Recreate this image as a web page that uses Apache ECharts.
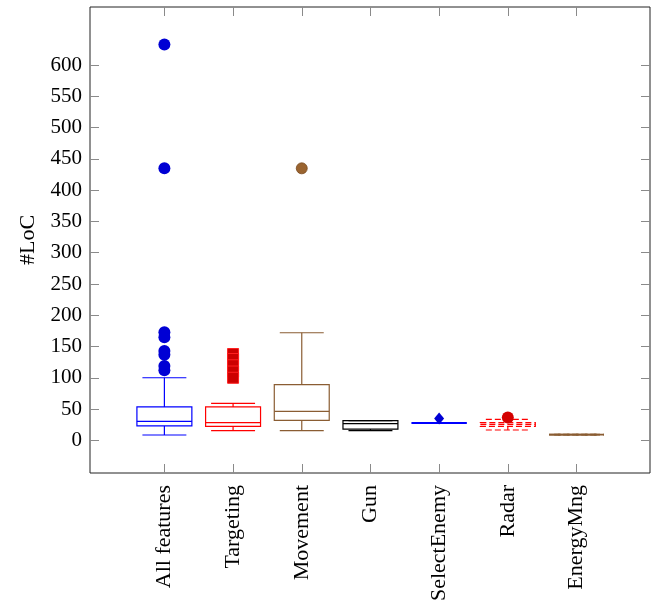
<!DOCTYPE html>
<html>
<head>
<meta charset="UTF-8">
<title>LoC per feature</title>
<script src="https://cdn.jsdelivr.net/npm/echarts@6/dist/echarts.min.js"></script>
<style>
  html, body { margin: 0; padding: 0; background: #fff; }
  #chart { width: 653px; height: 611px; }
</style>
</head>
<body>
<div id="chart"></div>
<script>
// box statistics, one entry per category
var categories = ['All features', 'Targeting', 'Movement', 'Gun', 'SelectEnemy', 'Radar', 'EnergyMng'];
var lowerWhisker = [8.5, 15.5, 15.5, 15.5, 27.7, 16.5, 9];
var firstQuartile = [23, 22.4, 32, 18, 27.7, 22.4, 9];
var medians = [30.4, 28.3, 46.4, 26.7, 27.7, 25.6, 9];
var thirdQuartile = [53.3, 53.3, 89, 31.5, 27.7, 28.3, 9];
var upperWhisker = [100, 59.2, 172, 31.5, 27.7, 33.6, 9];

// outliers per category
var outliersAll = [633, 435, 173, 165, 143, 137, 119, 112];
var outliersTargeting = [138, 130, 120, 110, 100];
var outliersMovement = [435];
var outliersSelectEnemy = [34.7];
var outliersRadar = [36.5];

var yTicks = [0, 50, 100, 150, 200, 250, 300, 350, 400, 450, 500, 550, 600];
var xTicks = [1, 2, 3, 4, 5, 6, 7];

// look of each box
var boxColors = ['#0000ff', '#ff0000', '#8a5d33', '#000000', '#0000ff', '#ff0000', '#8a5d33'];
var boxDashed = [false, false, false, false, false, true, true];
var boxWidths = [1.2, 1.2, 1.2, 1.2, 2, 1.2, 1.6];

var font = '"Liberation Serif", "DejaVu Serif", serif';
var chart = echarts.init(document.getElementById('chart'));

var boxData = categories.map(function (c, i) {
    return [i + 1, lowerWhisker[i], firstQuartile[i], medians[i], thirdQuartile[i], upperWhisker[i]];
});

function renderBox(params, api) {
    var i = params.dataIndex;
    var x = api.value(0);
    var style = {
        stroke: boxColors[i],
        fill: null,
        lineWidth: boxWidths[i],
        lineDash: boxDashed[i] ? [6, 3] : null
    };
    var bh = 0.4, wh = 0.32;
    var lo = api.coord([x, api.value(1)]);
    var q1L = api.coord([x - bh, api.value(2)]);
    var q3R = api.coord([x + bh, api.value(4)]);
    var medL = api.coord([x - bh, api.value(3)]);
    var medR = api.coord([x + bh, api.value(3)]);
    var hi = api.coord([x, api.value(5)]);
    var q1 = api.coord([x, api.value(2)]);
    var q3 = api.coord([x, api.value(4)]);
    var capL = api.coord([x - wh, 0])[0];
    var capR = api.coord([x + wh, 0])[0];
    function line(x1, y1, x2, y2) {
        return { type: 'line', shape: { x1: x1, y1: y1, x2: x2, y2: y2 }, style: style };
    }
    var parts = [
        line(capL, lo[1], capR, lo[1]),
        line(capL, hi[1], capR, hi[1]),
        {
            type: 'rect',
            shape: { x: q1L[0], y: q3R[1], width: q3R[0] - q1L[0], height: q1L[1] - q3R[1] },
            style: style
        },
        line(medL[0], medL[1], medR[0], medR[1])
    ];
    if (lo[1] - q1[1] > 0.5) parts.push(line(lo[0], lo[1], q1[0], q1[1]));
    if (q3[1] - hi[1] > 0.5) parts.push(line(q3[0], q3[1], hi[0], hi[1]));
    return { type: 'group', children: parts };
}

function points(idx, values) {
    return values.map(function (v) { return [idx + 1, v]; });
}

var xRange = { min: -0.083, max: 8.07 };
var yRange = { min: -52.3, max: 693 };

function ticks(values) {
    return { show: true, inside: true, length: 9, customValues: values, lineStyle: { color: '#8a8a8a', width: 1 } };
}
function hiddenLine() {
    return { show: false, onZero: false };
}

chart.setOption({
    animation: false,
    grid: {
        left: 90, right: 3, top: 7, bottom: 138,
        show: true, borderColor: '#222', borderWidth: 1, backgroundColor: 'transparent'
    },
    xAxis: [{
        type: 'value', position: 'bottom', min: xRange.min, max: xRange.max,
        axisLine: hiddenLine(), splitLine: { show: false },
        axisTick: ticks(xTicks),
        axisLabel: {
            customValues: xTicks,
            rotate: 90, margin: 12,
            fontFamily: font, fontSize: 22, color: '#000',
            formatter: function (v) { return categories[v - 1]; }
        }
    }, {
        type: 'value', position: 'top', min: xRange.min, max: xRange.max,
        axisLine: hiddenLine(), splitLine: { show: false }, axisLabel: { show: false },
        axisTick: ticks(xTicks)
    }],
    yAxis: [{
        type: 'value', position: 'left', min: yRange.min, max: yRange.max,
        name: '#LoC', nameLocation: 'middle', nameGap: 50,
        nameTextStyle: { fontFamily: font, fontSize: 22, color: '#000' },
        axisLine: hiddenLine(), splitLine: { show: false },
        axisTick: ticks(yTicks),
        axisLabel: { customValues: yTicks, margin: 8, fontFamily: font, fontSize: 21, color: '#000' }
    }, {
        type: 'value', position: 'right', min: yRange.min, max: yRange.max,
        axisLine: hiddenLine(), splitLine: { show: false }, axisLabel: { show: false },
        axisTick: ticks(yTicks)
    }],
    series: [
        {
            type: 'custom', renderItem: renderBox, data: boxData,
            encode: { x: 0, y: [1, 2, 3, 4, 5] }, clip: false
        },
        {
            type: 'scatter', data: points(0, outliersAll), symbol: 'circle', symbolSize: 12,
            itemStyle: { color: '#0000d4', opacity: 1 }
        },
        {
            type: 'scatter', data: points(1, outliersTargeting), symbol: 'rect', symbolSize: 11,
            itemStyle: { color: '#cc0000', borderColor: '#ff2020', borderWidth: 1, opacity: 1 }
        },
        {
            type: 'scatter', data: points(2, outliersMovement), symbol: 'circle', symbolSize: 11,
            itemStyle: { color: '#9a6430', borderColor: '#7a4a20', borderWidth: 0.8, opacity: 1 }
        },
        {
            type: 'scatter', data: points(4, outliersSelectEnemy), symbol: 'diamond', symbolSize: [10, 12],
            itemStyle: { color: '#0000d4', opacity: 1 }
        },
        {
            type: 'scatter', data: points(5, outliersRadar), symbol: 'circle', symbolSize: 12,
            itemStyle: { color: '#d40000', opacity: 1 }
        }
    ]
});
</script>
</body>
</html>
